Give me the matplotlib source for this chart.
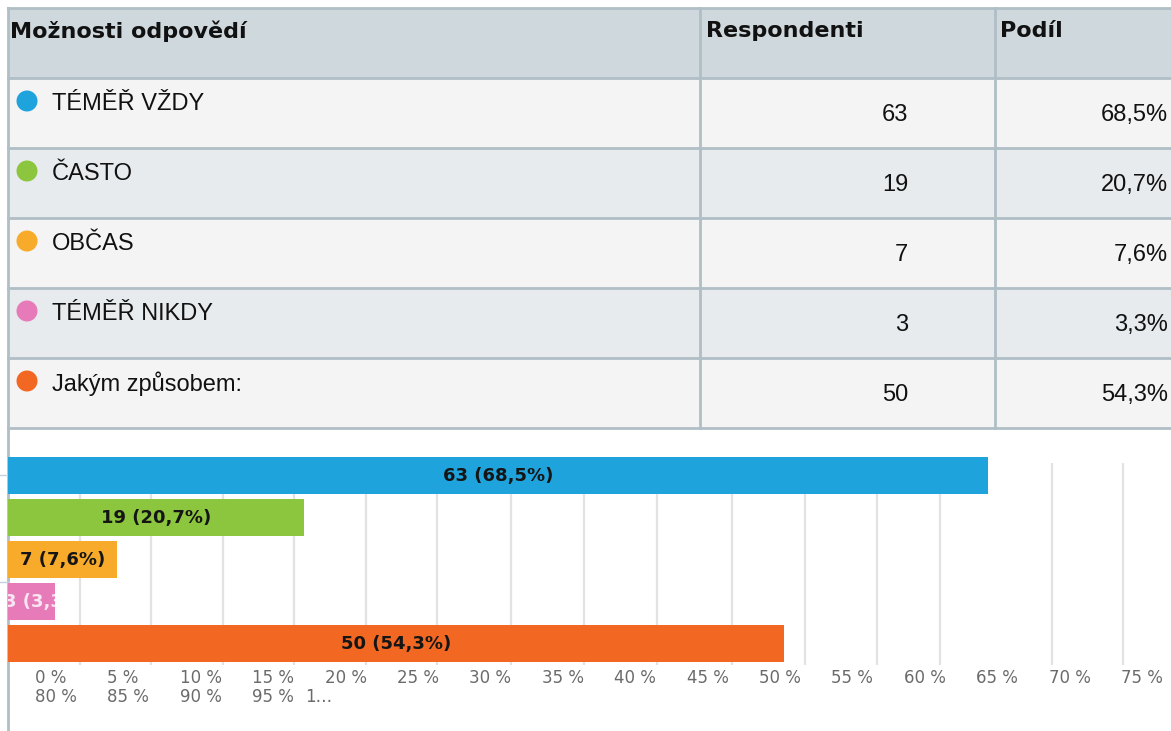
import numpy as np
import matplotlib
matplotlib.use('Agg')
import matplotlib.pyplot as plt
from matplotlib.patches import Rectangle, Circle
from matplotlib.transforms import Bbox, TransformedBbox

# data
categories = ['TÉMĚŘ VŽDY', 'ČASTO', 'OBČAS', 'TÉMĚŘ NIKDY', 'Jakým způsobem:']
counts = [63, 19, 7, 3, 50]
shares = [68.5, 20.7, 7.6, 3.3, 54.3]
colors = ['#1ea3dd', '#8cc63f', '#f8ab2a', '#e77ab8', '#f26822']
headers = ['Možnosti odpovědí', 'Respondenti', 'Podíl']
tick_labels = ['0 %', '5 %', '10 %', '15 %', '20 %', '25 %', '30 %', '35 %',
               '40 %', '45 %', '50 %', '55 %', '60 %', '65 %', '70 %', '75 %',
               '80 %', '85 %', '90 %', '95 %', '1…']
grid_pos = [5, 10, 15, 20, 25, 30, 35.2, 40.3, 45.4, 50.6, 55.7, 60.8, 65.2, 73.0, 78.0]

W, H = 1171, 731
fig = plt.figure(figsize=(W / 100, H / 100), dpi=100)

# overlay in pixel coordinates for the table
bg = fig.add_axes([0, 0, 1, 1], zorder=0)
bg.set_xlim(0, W)
bg.set_ylim(H, 0)
bg.axis('off')

border = '#b0bec5'
left, col1, col2, right = 8, 700, 995, W + 5
top, row_h = 8, 70

# header
bg.add_patch(Rectangle((left, top), right - left, row_h, facecolor='#cfd8dc', edgecolor='none'))
for x, h in zip([10, 706, 1000], headers):
    bg.text(x, top + 23, h, fontsize=16, fontweight='bold', family='DejaVu Sans',
            va='center', ha='left', color='#111111')

# rows
for i, cat in enumerate(categories):
    y0 = top + row_h * (i + 1)
    fc = '#f4f4f4' if i % 2 == 0 else '#e8ebed'
    bg.add_patch(Rectangle((left, y0), right - left, row_h, facecolor=fc, edgecolor='none'))
    bg.add_patch(Circle((27, y0 + 23), 10.5, facecolor=colors[i], edgecolor='none'))
    bg.text(52, y0 + 26, cat, fontsize=17, family='Liberation Sans',
            va='center', ha='left', color='#111111')
    bg.text(908, y0 + 37, str(counts[i]), fontsize=17, family='Liberation Sans',
            va='center', ha='right', color='#111111')
    bg.text(1168, y0 + 37, f'{shares[i]:.1f}%'.replace('.', ','), fontsize=17,
            family='Liberation Sans', va='center', ha='right', color='#111111')

# table lines
n_rows = len(categories) + 1
for i in range(n_rows + 1):
    y = top + row_h * i
    bg.plot([left, right], [y, y], color=border, lw=2)
table_bottom = top + row_h * n_rows
for x in [col1, col2]:
    bg.plot([x, x], [top, table_bottom], color=border, lw=2)
bg.plot([left, left], [top, H], color=border, lw=2)
for y in [475, 582]:
    bg.plot([0, left], [y, y], color='#c5d3dc', lw=1)

# tick labels (wrapped in two rows like the original)
slots = [35 + 72.4 * k for k in range(16)]
for k, lab in enumerate(tick_labels):
    row, col = divmod(k, 16)
    x = slots[col] if lab != '1…' else 305
    bg.text(x, 678 + row * 19, lab, fontsize=12, family='DejaVu Sans',
            color='#6b6b6b', va='center', ha='left')

# bar chart
px_per = 14.3
ax_top, ax_bot = 463, 665
ax = fig.add_axes([left / W, 1 - ax_bot / H, (W - left) / W, (ax_bot - ax_top) / H], zorder=1)
ax.set_facecolor('none')
ax.set_xlim(0, (W - left) / px_per)
spacing = 42
ax.set_ylim((ax_bot - 475.5) / spacing, (ax_top - 475.5) / spacing)
for g in grid_pos:
    ax.axvline(g, color='#e2e2e2', lw=1.6, zorder=0)
for s in ax.spines.values():
    s.set_visible(False)
ax.set_xticks([])
ax.set_yticks([])

ypos = np.arange(len(categories))
bh = 37 / spacing
bars = ax.barh(ypos, shares, height=bh, color=colors, zorder=2, clip_on=False)
for i, b in enumerate(bars):
    lab = f'{counts[i]} ({shares[i]:.1f}%)'.replace('.', ',')
    if shares[i] < 5:
        # too narrow: label starts at the left and gets cut by the bar
        t = ax.text(-0.3, ypos[i], lab, ha='left', va='center', fontsize=13,
                    fontweight='heavy', family='DejaVu Sans', color='#f7e6f1', zorder=3)
    else:
        t = ax.text(shares[i] / 2, ypos[i], lab, ha='center', va='center', fontsize=13,
                    fontweight='heavy', family='DejaVu Sans', color='#151515', zorder=3)
    box = Bbox.from_bounds(0, ypos[i] - bh / 2, shares[i], bh)
    t.set_clip_box(TransformedBbox(box, ax.transData))
    t.set_clip_on(True)

fig.savefig('out.png', dpi=100)
